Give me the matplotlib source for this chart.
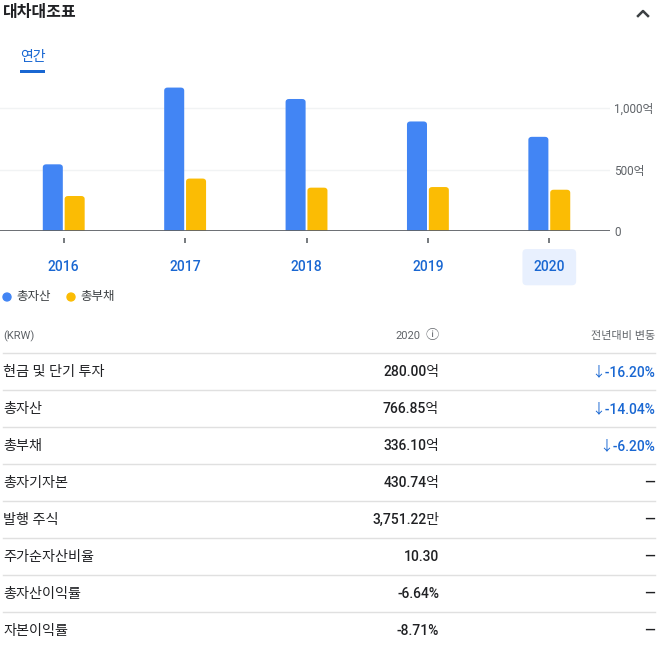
import matplotlib
matplotlib.use('Agg')
import matplotlib.pyplot as plt
from matplotlib.lines import Line2D
from matplotlib.patches import Circle, FancyBboxPatch
import numpy as np

# 데이터
years = ['2016', '2017', '2018', '2019', '2020']
total_assets = [543, 1168, 1075, 892, 766.85]      # 억
total_liabilities = [285, 427, 353, 358, 336.10]   # 억
y_ticks = [0, 500, 1000]
y_tick_labels = ['0', '500억', '1,000억']

row_labels = ['현금 및 단기 투자', '총자산', '총부채', '총자기자본', '발행 주식',
              '주가순자산비율', '총자산이익률', '자본이익률']
row_values = ['280.00억', '766.85억', '336.10억', '430.74억', '3,751.22만',
              '10.30', '-6.64%', '-8.71%']
row_changes = ['↓-16.20%', '↓-14.04%', '↓-6.20%', '—', '—', '—', '—', '—']

BLUE = '#4285f4'
YELLOW = '#fbbc04'
LINK = '#1967d2'
DARK = '#202124'
GRAY = '#5f6368'

plt.rcParams['font.family'] = ['Roboto', 'Noto Sans CJK KR', 'DejaVu Sans']

W, H = 661, 652
fig = plt.figure(figsize=(W / 100, H / 100), dpi=100)


def fx(x):
    return x / W


def fy(y):
    return 1 - y / H


# 막대 차트
ax = fig.add_axes([0, fy(231), fx(610), 153.5 / H])
x = np.arange(len(years))
bw = 0.165
b1 = ax.bar(x - 0.09, total_assets, bw, color=BLUE, zorder=3)
b2 = ax.bar(x + 0.09, total_liabilities, bw, color=YELLOW, zorder=3)
ax.set_xlim(-0.525, 4.5)
ax.set_ylim(0, 1250)

# 막대 윗부분 둥글게
for bars in (b1, b2):
    for r in bars:
        r.set_visible(False)
        ax.add_patch(FancyBboxPatch((r.get_x(), -40), r.get_width(), r.get_height() + 40,
                                    boxstyle='round,pad=0,rounding_size=0.028',
                                    mutation_aspect=900, fc=r.get_facecolor(),
                                    ec='none', zorder=3))

ax.axhline(0, color='#5f6368', lw=1.3, zorder=4)
ax.set_yticks(y_ticks)
ax.set_yticklabels(y_tick_labels)
ax.yaxis.tick_right()
ax.tick_params(axis='y', length=0, pad=3, labelsize=8.5, labelcolor=GRAY)
ax.grid(axis='y', color='#f1f3f4', lw=1, zorder=0)
for s in ['top', 'left', 'right']:
    ax.spines[s].set_visible(False)
ax.spines['bottom'].set_position(('outward', 5))
ax.spines['bottom'].set_visible(False)
ax.set_xticks(x)
ax.set_xticklabels(years)
ax.tick_params(axis='x', length=3.5, width=1.2, color='#5f6368', pad=12.5,
               labelsize=10, labelcolor=LINK)
for lab in ax.get_xticklabels():
    lab.set_fontweight('medium')
ax.get_xticklabels()[-1].set_bbox(dict(boxstyle='round,pad=0.8,rounding_size=0.3',
                                       fc='#e8f0fe', ec='none'))

# 제목 및 탭
fig.text(fx(3), fy(13), '대차대조표', fontsize=11.5, fontweight='bold',
         color=DARK, va='center', ha='left')
fig.add_artist(Line2D([fx(638), fx(643), fx(648)], [fy(16), fy(11), fy(16)],
                      color='#3c4043', lw=1.8, transform=fig.transFigure))
fig.text(fx(20), fy(57), '연간', fontsize=10, color=LINK, va='center', ha='left',
         fontweight='medium')
fig.add_artist(FancyBboxPatch((fx(20), fy(73)), fx(25), 3 / H,
                              boxstyle='square,pad=0', fc=LINK, ec='none',
                              transform=fig.transFigure))

# 범례
legend_items = [('총자산', BLUE, 7), ('총부채', YELLOW, 71)]
for name, col, lx in legend_items:
    fig.add_artist(Circle((fx(lx), fy(297)), 4 / W, color=col,
                          transform=fig.transFigure))
    fig.text(fx(lx + 9), fy(297), name, fontsize=9, color='#3c4043',
             va='center', ha='left')

# 표
fig.text(fx(3), fy(336), '(KRW)', fontsize=8, color=GRAY, va='center', ha='left')
fig.text(fx(420), fy(336), '2020', fontsize=8, color=GRAY, va='center', ha='right')
fig.text(fx(432), fy(336), 'ⓘ', fontsize=9.5, color=GRAY, va='center', ha='center',
         family=['Noto Sans CJK KR', 'DejaVu Sans'])
fig.text(fx(655), fy(336), '전년대비 변동', fontsize=8, color=GRAY, va='center', ha='right')

for i, (lab, val, chg) in enumerate(zip(row_labels, row_values, row_changes)):
    top = 353 + 37 * i
    fig.add_artist(Line2D([fx(3), fx(655)], [fy(top), fy(top)], color='#e0e0e0',
                          lw=1, transform=fig.transFigure))
    yc = top + 19
    fig.text(fx(3), fy(yc), lab, fontsize=10.2, color=DARK, va='center', ha='left',
             fontweight='medium')
    fig.text(fx(439), fy(yc), val, fontsize=10, color=DARK, va='center', ha='right',
             fontweight='medium')
    col = LINK if chg != '—' else DARK
    fig.text(fx(655), fy(yc), chg, fontsize=10, color=col, va='center', ha='right',
             fontweight='medium')

fig.savefig('out.png', dpi=100)
